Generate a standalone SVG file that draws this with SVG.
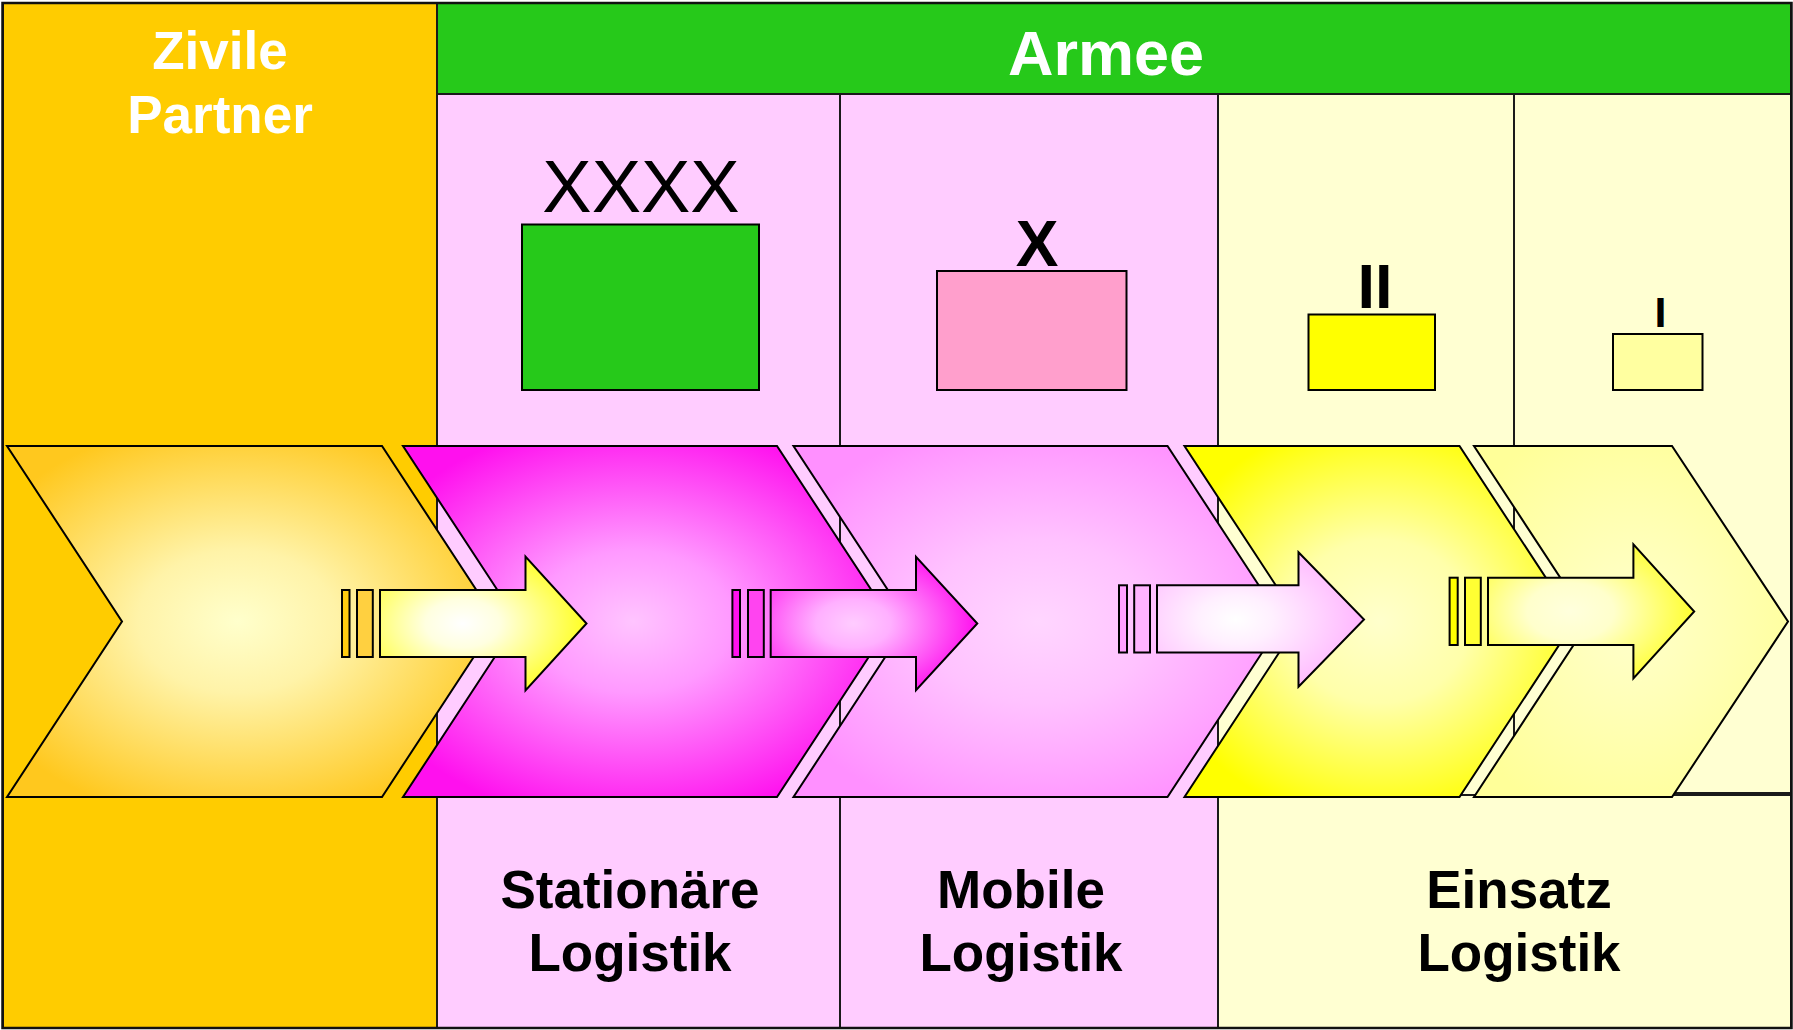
<svg xmlns="http://www.w3.org/2000/svg" width="1793" height="1030" viewBox="0 0 1793 1030">
<style>
.panel{stroke:#1a1a1a;stroke-width:2}
.shape{stroke:#000;stroke-width:2;stroke-linejoin:miter}
.hd{font-family:"Liberation Sans",Arial,sans-serif;font-weight:bold;fill:#fff;text-anchor:middle}
.lb{font-family:"Liberation Sans",Arial,sans-serif;font-weight:bold;fill:#000;text-anchor:middle;font-size:53px}
.sym{font-family:"Liberation Sans",Arial,sans-serif;fill:#000;text-anchor:middle}
</style>
<defs>
<radialGradient id="gc1" cx="0.47" cy="0.5" r="0.58"><stop offset="0" stop-color="#FFFFCC"/><stop offset="0.35" stop-color="#FFF3A8"/><stop offset="1" stop-color="#FFC81E"/></radialGradient>
<radialGradient id="gc2" cx="0.47" cy="0.5" r="0.58"><stop offset="0" stop-color="#FFC4FF"/><stop offset="0.35" stop-color="#FF99FF"/><stop offset="1" stop-color="#FF10EE"/></radialGradient>
<radialGradient id="gc3" cx="0.5" cy="0.5" r="0.58"><stop offset="0" stop-color="#FFD6FF"/><stop offset="0.4" stop-color="#FFC2FF"/><stop offset="1" stop-color="#FF90FF"/></radialGradient>
<radialGradient id="gc4" cx="0.5" cy="0.5" r="0.58"><stop offset="0" stop-color="#FFFFCC"/><stop offset="0.4" stop-color="#FFFFAA"/><stop offset="1" stop-color="#FFFF00"/></radialGradient>
<radialGradient id="gc5" cx="0.5" cy="0.5" r="0.6"><stop offset="0" stop-color="#FFFFCC"/><stop offset="1" stop-color="#FFFF99"/></radialGradient>
<radialGradient id="ga1" cx="0.4" cy="0.5" r="0.6"><stop offset="0" stop-color="#FFFFFF"/><stop offset="0.3" stop-color="#FFFFE0"/><stop offset="1" stop-color="#FFFF22"/></radialGradient>
<radialGradient id="ga2" cx="0.4" cy="0.5" r="0.6"><stop offset="0" stop-color="#FFCCFF"/><stop offset="0.3" stop-color="#FFB0FF"/><stop offset="1" stop-color="#FF10EE"/></radialGradient>
<radialGradient id="ga3" cx="0.38" cy="0.5" r="0.6"><stop offset="0" stop-color="#FFFFFF"/><stop offset="0.3" stop-color="#FFF0FF"/><stop offset="1" stop-color="#FFB8FF"/></radialGradient>
<radialGradient id="ga4" cx="0.4" cy="0.5" r="0.6"><stop offset="0" stop-color="#FFFFDD"/><stop offset="0.35" stop-color="#FFFFCC"/><stop offset="1" stop-color="#FFFF30"/></radialGradient>
</defs>

<g id="panel-zivile">
<rect class="panel" x="3" y="3" width="434" height="1025" fill="#FFCC00"/>
<text class="hd" x="220" y="69" font-size="53">Zivile</text>
<text class="hd" x="220" y="132.5" font-size="53">Partner</text>
</g>
<g id="panel-armee">
<rect class="panel" x="437" y="3" width="1354" height="91" fill="#26C91A"/>
<text class="hd" x="1106" y="75" font-size="63">Armee</text>
</g>
<g id="col-stationaer">
<rect class="panel" x="437" y="94" width="403" height="934" fill="#FFCCFF"/>
</g>
<g id="col-mobile">
<rect class="panel" x="840" y="94" width="378" height="934" fill="#FFCCFF"/>
</g>
<g id="col-einsatz">
<rect class="panel" x="1218" y="94" width="296" height="701" fill="#FFFFD2"/>
<rect class="panel" x="1514" y="94" width="277" height="699" fill="#FFFFD2"/>
<rect class="panel" x="1218" y="795" width="573" height="233" fill="#FFFFD2"/>
</g>

<g id="unit-xxxx">
<text class="sym" x="641" y="212" font-size="74">XXXX</text>
<rect class="shape" x="522" y="224.5" width="237" height="165.5" fill="#26C91A"/>
</g>
<g id="unit-x">
<text class="sym" x="1037" y="265.5" font-size="64" font-weight="bold">X</text>
<rect class="shape" x="937" y="271" width="189.5" height="119" fill="#FF9FCC"/>
</g>
<g id="unit-ii">
<text class="sym" x="1375" y="307.5" font-size="63" font-weight="bold">II</text>
<rect class="shape" x="1308.5" y="314.5" width="126.5" height="75.5" fill="#FFFF00"/>
</g>
<g id="unit-i">
<text class="sym" x="1660.5" y="327" font-size="43" font-weight="bold">I</text>
<rect class="shape" x="1613" y="334" width="89.5" height="56" fill="#FFFFA0"/>
</g>

<g id="chevron-1"><path class="shape" fill="url(#gc1)" d="M7,446 L382,446 L497,621.5 L382,797 L7,797 L122,621.5 Z"/></g>
<g id="chevron-2"><path class="shape" fill="url(#gc2)" d="M403,446 L777,446 L892,621.5 L777,797 L403,797 L518,621.5 Z"/></g>
<g id="chevron-3"><path class="shape" fill="url(#gc3)" d="M793.5,446 L1167.5,446 L1282.5,621.5 L1167.5,797 L793.5,797 L908.5,621.5 Z"/></g>
<g id="chevron-4"><path class="shape" fill="url(#gc4)" d="M1184.5,446 L1459.5,446 L1574.5,621.5 L1459.5,797 L1184.5,797 L1299.5,621.5 Z"/></g>
<g id="chevron-5"><path class="shape" fill="url(#gc5)" d="M1474,446 L1672,446 L1788,621.5 L1672,797 L1474,797 L1589,621.5 Z"/></g>

<g id="connectors">
<g id="arrow-1">
<rect class="shape" x="342" y="590" width="7.5" height="67" fill="#FFCC11"/>
<rect class="shape" x="357" y="590" width="15.8" height="67" fill="#FFD040"/>
<path class="shape" fill="url(#ga1)" d="M380,590 L525.5,590 L525.5,556.7 L586.5,623.5 L525.5,690.3 L525.5,657 L380,657 Z"/>
</g>
<g id="arrow-2">
<rect class="shape" x="732.4" y="590" width="7.6" height="67" fill="#FF11EE"/>
<rect class="shape" x="748" y="590" width="15.8" height="67" fill="#FF44F0"/>
<path class="shape" fill="url(#ga2)" d="M770.7,590 L916,590 L916,556.7 L977.3,623.5 L916,690.3 L916,657 L770.7,657 Z"/>
</g>
<g id="arrow-3">
<rect class="shape" x="1119" y="585.3" width="8" height="67.2" fill="#FFA0FF"/>
<rect class="shape" x="1134.2" y="585.3" width="15.8" height="67.2" fill="#FFB4FF"/>
<path class="shape" fill="url(#ga3)" d="M1157,585.3 L1298.5,585.3 L1298.5,552.3 L1364,619.5 L1298.5,686.7 L1298.5,652.5 L1157,652.5 Z"/>
</g>
<g id="arrow-4">
<rect class="shape" x="1449.6" y="577.7" width="8.1" height="67.3" fill="#FFFF00"/>
<rect class="shape" x="1465" y="577.7" width="15.8" height="67.3" fill="#FFFF33"/>
<path class="shape" fill="url(#ga4)" d="M1488,577.7 L1633.4,577.7 L1633.4,544.3 L1694.2,611.5 L1633.4,678.3 L1633.4,645 L1488,645 Z"/>
</g>
</g>

<g id="labels">
<text class="lb" x="630" y="907.5">Stationäre</text>
<text class="lb" x="630" y="970.5">Logistik</text>
<text class="lb" x="1021" y="907.5">Mobile</text>
<text class="lb" x="1021" y="970.5">Logistik</text>
<text class="lb" x="1519" y="907.5">Einsatz</text>
<text class="lb" x="1519" y="970.5">Logistik</text>
</g>
<rect x="2.5" y="3" width="1789" height="1025" fill="none" stroke="#111" stroke-width="2.5"/>
</svg>
